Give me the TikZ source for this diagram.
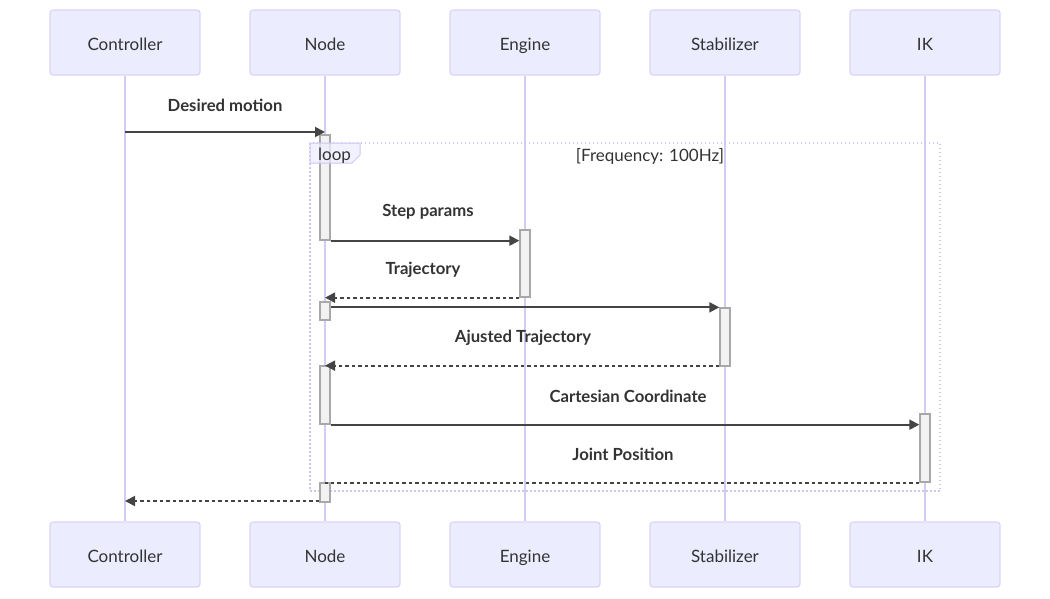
\documentclass[tikz,border=0pt]{standalone}
\usepackage{fontspec}
\setmainfont{Lato}
\usetikzlibrary{arrows.meta,calc}
\definecolor{actfill}{HTML}{ECECFF}
\definecolor{actline}{HTML}{DCD4F6}
\definecolor{life}{HTML}{D3CBF3}
\definecolor{txt}{HTML}{333333}
\definecolor{msgc}{HTML}{444444}
\definecolor{barfill}{HTML}{F2F2F2}
\definecolor{barline}{HTML}{A8A8A8}
\definecolor{loopc}{HTML}{CFC6F2}
\begin{document}
\begin{tikzpicture}[x=1pt,y=-1pt,
  actor/.style={draw=actline,fill=actfill,line width=1.2pt,rounded corners=3pt,minimum width=150pt,minimum height=65pt,text=txt,font=\fontsize{17}{20}\selectfont,inner sep=0pt,text height=15pt,text depth=0pt},
  lifeline/.style={draw=life,line width=1.6pt},
  bar/.style={draw=barline,fill=barfill,line width=1.3pt,minimum width=10pt,inner sep=0pt},
  msg/.style={draw=msgc,line width=1.9pt,-{Triangle[length=10pt,width=10pt]},color=msgc},
  ret/.style={msg,dash pattern=on 3.5pt off 3pt},
  retnh/.style={draw=msgc,line width=1.9pt,dash pattern=on 3.5pt off 3pt},
  lbl/.style={text=txt,font=\fontsize{16.7}{19}\selectfont\bfseries,inner sep=0pt},
  plain/.style={text=txt,font=\fontsize{17}{20}\selectfont,inner sep=0pt}]
\useasboundingbox (0,0) rectangle (1050,598);
% actors
\foreach \n/\t/\x in {c/Controller/125,n/Node/325,e/Engine/525,s/Stabilizer/725,i/IK/925}{
  \node[actor] (\n top) at (\x,42.5) {\t};
  \node[actor] (\n bot) at (\x,554.5) {\t};
  \draw[lifeline] (\n top.south) -- (\n bot.north);
}
% loop frame
\draw[loopc,line width=1.5pt,dash pattern=on 1.5pt off 2.5pt] (310,143) rectangle (940,491);
% activation bars
\node[bar,minimum height=105pt] (n1) at (325,187.5) {};
\node[bar,minimum height=67pt] (e1) at (525,263.5) {};
\node[bar,minimum height=18pt] (n2) at (325,311) {};
\node[bar,minimum height=58pt] (s1) at (725,337) {};
\node[bar,minimum height=58pt] (n3) at (325,395) {};
\node[bar,minimum height=68pt] (i1) at (925,448) {};
\node[bar,minimum height=19pt] (n4) at (325,492.5) {};
% loop tab
\draw[loopc,line width=1pt,fill=actfill,fill opacity=0.75] (310,143) -- (360,143) -- (360,155) -- (352,163) -- (310,163) -- cycle;
\node[plain,anchor=west] (looplbl) at (318,156) {loop};
\node[plain] (cond) at (650,156) {[Frequency: 100Hz]};
% messages
\coordinate (c1) at (125,132);
\draw[msg] (c1) -- (c1 -| ntop.south);
\node[lbl] (l1) at (225,105) {Desired motion};
\draw[msg] (n1.south east) -- (n1.south east -| e1.west);
\node[lbl] (l2) at (428,212) {Step params};
\draw[ret] (e1.south west) -- (e1.south west -| n1.center);
\node[lbl] (l3) at (423,270) {Trajectory};
\draw[msg] ($(n2.north east)+(0,6)$) -- ($(n2.north east -| s1.west)+(0,6)$);
\draw[ret] ($(s1.south west)+(0,-1)$) -- ($(s1.south west -| n1.center)+(0,-1)$);
\node[lbl] (l4) at (523,338) {Ajusted Trajectory};
\draw[msg] (n3.south east) -- (n3.south east -| i1.west);
\node[lbl] (l5) at (628,396) {Cartesian Coordinate};
\draw[retnh] (i1.south west) -- (i1.south west -| n1.center);
\node[lbl] (l6) at (623,454) {Joint Position};
\draw[ret] ($(n4.west)+(0,8.5)$) -- ($(n4.west -| ctop.south)+(0,8.5)$);
\end{tikzpicture}
\end{document}
